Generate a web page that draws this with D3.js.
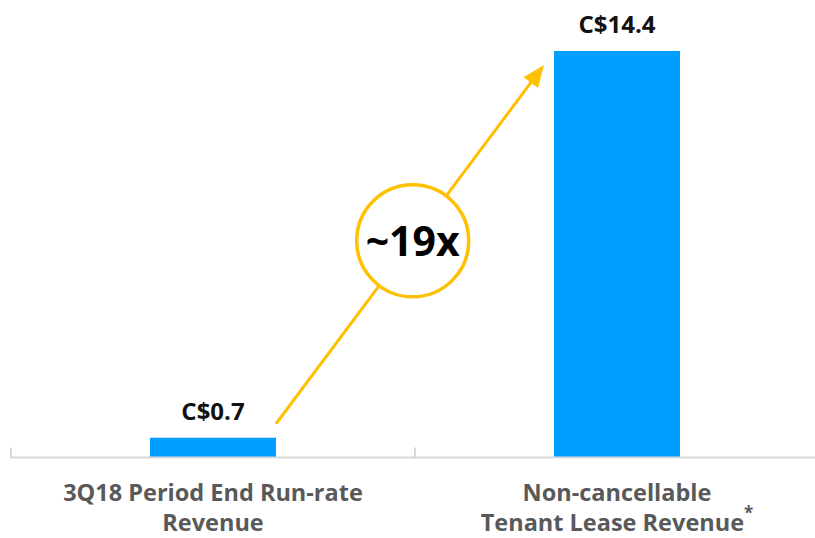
<!DOCTYPE html>
<html>
<head>
<meta charset="utf-8">
<script src="https://cdn.jsdelivr.net/npm/d3@7"></script>
<style>
  html, body { margin: 0; padding: 0; background: #fff; }
  svg { display: block; font-family: "Open Sans", Lato, sans-serif; }
</style>
</head>
<body>
<svg id="chart" width="815" height="538"></svg>
<script>
// Revenue comparison (C$ millions)
const categories = ["3Q18 Period End Run-rate Revenue", "Non-cancellable Tenant Lease Revenue"];
const categoryLines = [["3Q18 Period End Run-rate", "Revenue"], ["Non-cancellable", "Tenant Lease Revenue"]];
const values = [0.7, 14.4];
const valueLabels = ["C$0.7", "C$14.4"];
const multipleLabel = "~19x";

const svg = d3.select("#chart");
const baseY = 457.5;

const x = d3.scaleBand()
  .domain(categories)
  .range([11, 819])
  .paddingInner(0.688)
  .paddingOuter(0.344);

const y = d3.scaleLinear()
  .domain([0, 14.4])
  .range([baseY, 51]);

// bars
svg.selectAll("rect.bar")
  .data(values)
  .join("rect")
  .attr("class", "bar")
  .attr("x", (d, i) => x(categories[i]))
  .attr("y", d => y(d))
  .attr("width", x.bandwidth())
  .attr("height", d => baseY - y(d))
  .attr("fill", "#009fff");

// category axis: baseline with boundary ticks pointing up
svg.append("line")
  .attr("x1", 10).attr("x2", 815)
  .attr("y1", baseY).attr("y2", baseY)
  .attr("stroke", "#d9d9d9").attr("stroke-width", 2);

const step = x.step();
const firstEdge = x(categories[0]) - step * x.paddingOuter();
const boundaries = [firstEdge, firstEdge + step];
svg.selectAll("line.tick")
  .data(boundaries)
  .join("line")
  .attr("class", "tick")
  .attr("x1", d => d).attr("x2", d => d)
  .attr("y1", baseY).attr("y2", baseY - 10)
  .attr("stroke", "#d9d9d9").attr("stroke-width", 2);

// value labels
svg.selectAll("text.value")
  .data(values)
  .join("text")
  .attr("class", "value")
  .attr("x", (d, i) => x(categories[i]) + x.bandwidth() / 2)
  .attr("y", d => y(d) - 18)
  .attr("text-anchor", "middle")
  .attr("font-size", 24)
  .attr("font-weight", 700)
  .attr("fill", "#111")
  .text((d, i) => valueLabels[i]);

// category labels
const catG = svg.selectAll("g.cat")
  .data(categories)
  .join("g")
  .attr("class", "cat")
  .attr("transform", d => `translate(${x(d) + x.bandwidth() / 2},0)`);

catG.each(function(d, i) {
  const g = d3.select(this);
  categoryLines[i].forEach((line, j) => {
    const t = g.append("text")
      .attr("x", 0)
      .attr("y", 501 + j * 30)
      .attr("text-anchor", "middle")
      .attr("font-size", 23.5)
      .attr("font-weight", 700)
      .attr("fill", "#595959")
      .text(line);
    if (i === 1 && j === 1) {
      t.append("tspan")
        .attr("dy", -12)
        .attr("font-size", 17)
        .text("*");
    }
  });
});

// growth arrow from the small bar to the tall bar
const x0 = x(categories[0]) + x.bandwidth();
const y0 = y(values[0]) - 14;
const x1 = x(categories[1]) - 10;
const y1 = y(values[1]) + 14;
const ang = Math.atan2(y1 - y0, x1 - x0);
const headLen = 22, headHalf = 9;
const bx = x1 - headLen * Math.cos(ang), by = y1 - headLen * Math.sin(ang);

svg.append("line")
  .attr("x1", x0).attr("y1", y0)
  .attr("x2", bx + 4 * Math.cos(ang)).attr("y2", by + 4 * Math.sin(ang))
  .attr("stroke", "#ffc000").attr("stroke-width", 3);

svg.append("path")
  .attr("d", d3.line()([
    [x1, y1],
    [bx + headHalf * Math.sin(ang), by - headHalf * Math.cos(ang)],
    [bx - headHalf * Math.sin(ang), by + headHalf * Math.cos(ang)]
  ]) + "Z")
  .attr("fill", "#ffc000");

// multiple badge on the arrow
const t = 0.51;
const cx = x0 + (x1 - x0) * t, cy = y0 + (y1 - y0) * t;
svg.append("circle")
  .attr("cx", cx).attr("cy", cy).attr("r", 56)
  .attr("fill", "#fff")
  .attr("stroke", "#ffc000").attr("stroke-width", 3.5);

svg.append("text")
  .attr("x", cx).attr("y", cy + 15)
  .attr("text-anchor", "middle")
  .attr("font-size", 41)
  .attr("font-weight", 700)
  .attr("fill", "#000")
  .text(multipleLabel);
</script>
</body>
</html>
